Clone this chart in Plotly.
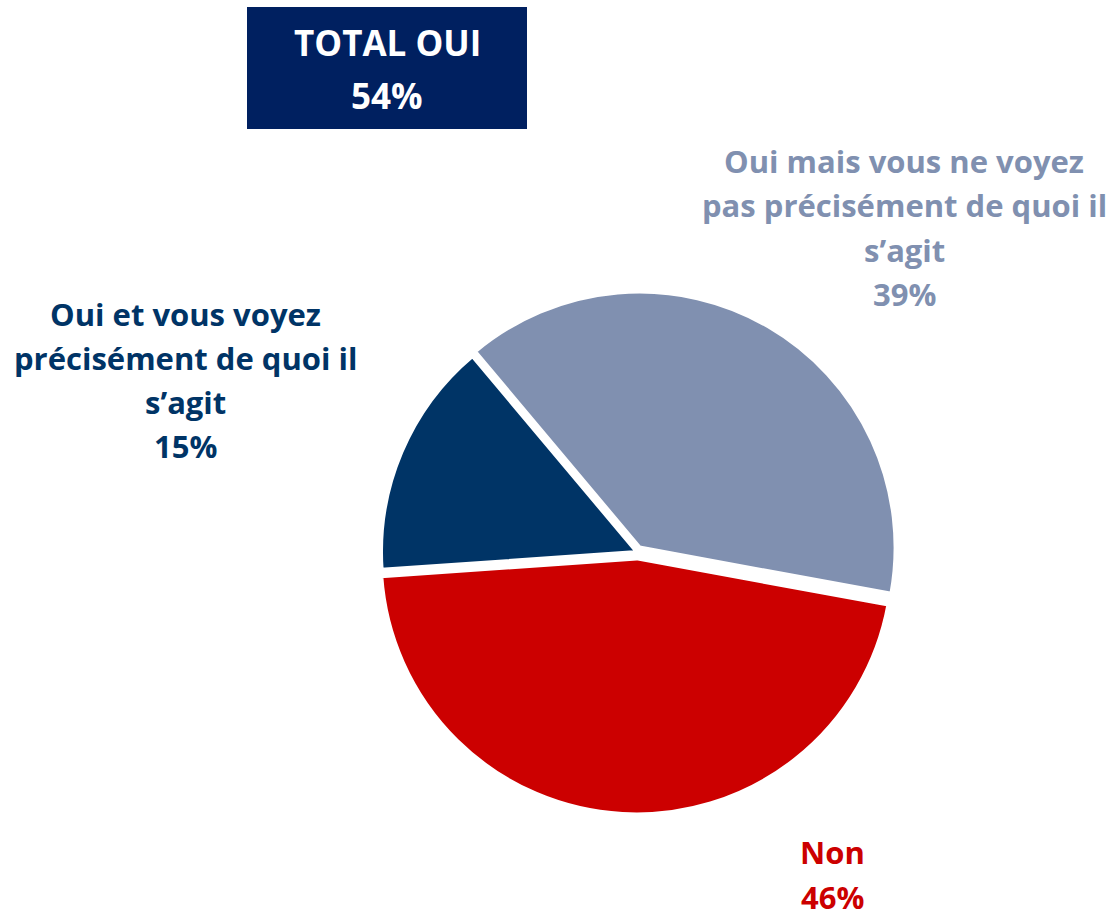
import plotly.graph_objects as go

W, H = 1111, 920

labels = ["Oui mais vous ne voyez pas précisément de quoi il s’agit", "Non",
          "Oui et vous voyez précisément de quoi il s’agit"]
values = [39, 46, 15]
colors = ["#8090B0", "#CC0000", "#003466"]
label_colors = ["#8090B0", "#CC0000", "#003466"]
label_lines = [["Oui mais vous ne voyez", "pas précisément de quoi il", "s’agit", "39%"],
               ["Non", "46%"],
               ["Oui et vous voyez", "précisément de quoi il", "s’agit", "15%"]]
total_lines = ["TOTAL OUI", "54%"]

FONT = "Open Sans"

def px(x):
    return x / W

def py(y):
    return 1 - y / H

cx, cy, r = 637, 552, 256
pull = [0.02, 0.025, 0]
rd = r * (1 + max(pull))

fig = go.Figure(go.Pie(
    labels=labels, values=values, sort=False, direction="clockwise", rotation=320,
    marker=dict(colors=colors, line=dict(color="white", width=4)),
    pull=pull, textinfo="none", hoverinfo="label+percent", showlegend=False,
    domain=dict(x=[px(cx - rd), px(cx + rd)], y=[py(cy + rd), py(cy - rd)]),
))

SIZE = 31
# (center x, first baseline y, line step)
pos = [(904, 172, 44.5), (832, 863, 49), (185, 325, 44)]
for lines, c, (x, y0, step) in zip(label_lines, label_colors, pos):
    for i, t in enumerate(lines):
        yb = y0 + i * step
        ymid = yb - 0.36 * SIZE
        if ymid + 0.72 * SIZE > H:
            yv, ya = 0, "bottom"
        else:
            yv, ya = py(ymid), "middle"
        fig.add_annotation(x=px(x), y=yv, xref="paper", yref="paper",
                           text=t, showarrow=False, xanchor="center", yanchor=ya,
                           font=dict(family=FONT, size=SIZE, color=c, weight="bold"))

fig.add_shape(type="rect", xref="paper", yref="paper",
              x0=px(247), x1=px(527), y0=py(129), y1=py(7),
              fillcolor="#002060", line=dict(width=0), layer="below")
TS = 35
for i, t in enumerate(total_lines):
    yb = 55 + i * 53
    fig.add_annotation(x=px(387), y=py(yb - 0.36 * TS), xref="paper", yref="paper", text=t,
                       showarrow=False, xanchor="center", yanchor="middle",
                       font=dict(family=FONT, size=TS, color="white", weight="bold"))

fig.update_layout(width=W, height=H, margin=dict(l=0, r=0, t=0, b=0),
                  paper_bgcolor="white", plot_bgcolor="white",
                  font=dict(family=FONT))
fig.write_html("out.html", config={"displayModeBar": False},
               post_script="document.body.style.margin='0';document.body.style.overflow='hidden';")
